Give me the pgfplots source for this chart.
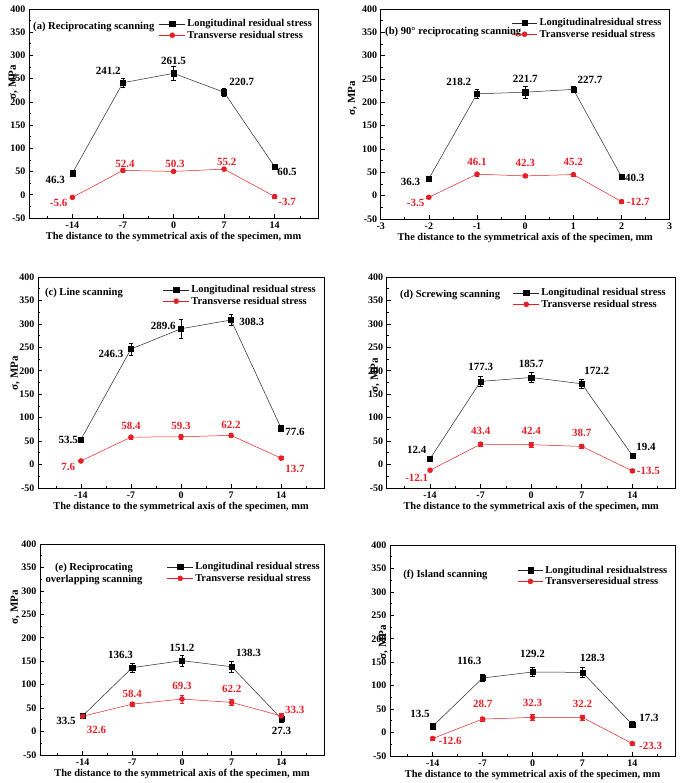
\documentclass[border=0pt]{standalone}
\usepackage{fontspec}
\setmainfont{Liberation Serif}
\usepackage{pgfplots}
\pgfplotsset{compat=1.18}
\definecolor{myred}{RGB}{228,32,38}
\newcommand{\labfont}{\fontsize{11}{12}\selectfont\bfseries}
\newcommand{\lb}[4]{\node[font=\labfont,text=black,inner sep=0pt] at (axis cs:#1,#2) [xshift=#3pt,yshift=#4pt] {#2};}
\newcommand{\lr}[4]{\node[font=\labfont,text=myred,inner sep=0pt] at (axis cs:#1,#2) [xshift=#3pt,yshift=#4pt] {#2};}
\tikzset{ttl/.style={font=\fontsize{10.6}{12.5}\selectfont\bfseries, inner sep=0pt}}
\pgfplotsset{
  base/.style={
    scale only axis, anchor=south west,
    ymin=-50, ymax=400, ytick={-50,0,...,400}, minor y tick num=1,
    tick align=inside, xtick pos=bottom, ytick pos=left,
    axis line style={line width=0.9pt},
    major tick length=4pt, minor tick length=2.2pt,
    every tick/.style={line width=0.7pt, black},
    ticklabel style={font=\fontsize{10}{11}\selectfont\bfseries},
    /pgf/number format/assume math mode=true,
    ylabel={σ, MPa},
    xlabel={The distance to the symmetrical axis of the specimen, mm},
    label style={font=\fontsize{10.4}{12}\selectfont\bfseries},
    ylabel style={anchor=center, font=\fontsize{11}{12}\selectfont\bfseries},
    xlabel style={yshift=3pt},
    legend style={draw=none, fill=none, anchor=north west, inner sep=0pt,
      font=\fontsize{10.5}{11.5}\selectfont\bfseries, row sep=-1.5pt},
    legend cell align=left,
    legend image code/.code={\draw[mark repeat=2,mark phase=2] plot coordinates {(0cm,0cm) (0.45cm,0cm) (0.9cm,0cm)};},
  },
  longi/.style={black!85, line width=0.5pt, mark=square*, mark size=2.6pt, mark options={fill=black, draw=black, solid},
    error bars/.cd, y dir=both, y explicit, error bar style={line width=0.6pt, black},
    error mark options={rotate=90, mark size=2.4pt, line width=0.6pt, black}},
  trans/.style={myred, line width=0.5pt, mark=*, mark size=2.5pt, mark options={fill=myred, solid},
    error bars/.cd, y dir=both, y explicit, error bar style={line width=0.6pt, myred},
    error mark options={rotate=90, mark size=2.4pt, line width=0.6pt, myred}},
  xmm/.style={xmin=-20, xmax=20, xtick={-14,-7,0,7,14}, minor xtick={-17.5,-10.5,-3.5,3.5,10.5,17.5}},
}
\begin{document}
\begin{tikzpicture}[x=1pt,y=1pt]
\path[use as bounding box] (0,0) rectangle (685,783);

% (a)
\begin{axis}[base, xmm, at={(29pt,565pt)}, width=289pt, height=209pt,
  legend style={at={(0.45,0.96)}},
  ylabel style={at={(axis description cs:-0.055,0.65)}}]
\addplot[longi] table[row sep=\\, x index=0, y index=1, y error index=2] {
-14 46.3 3\\ -7 241.2 10\\ 0 261.5 15\\ 7 220.7 9\\ 14 60.5 5\\};
\addlegendentry{Longitudinal residual stress}
\addplot[trans] table[row sep=\\, x index=0, y index=1, y error index=2] {
-14 -5.6 3\\ -7 52.4 4\\ 0 50.3 3\\ 7 55.2 3\\ 14 -3.7 3\\};
\addlegendentry{Transverse residual stress}
\node[ttl, anchor=west] at (axis description cs:0.014,0.914) {(a) Reciprocating scanning};
\lb{-14}{46.3}{-17}{-7}
\lb{-7}{241.2}{-14.6}{11.8}
\lb{0}{261.5}{0}{12.6}
\lb{7}{220.7}{17.7}{10}
\lb{14}{60.5}{12.4}{-5}
\lr{-14}{-5.6}{-13.7}{-5.3}
\lr{-7}{52.4}{2}{6.5}
\lr{0}{50.3}{1.5}{7}
\lr{7}{55.2}{2.7}{7}
\lr{14}{-3.7}{12.4}{-5.5}
\end{axis}

% (b)
\begin{axis}[base, at={(380.7pt,564pt)}, width=289pt, height=210pt,
  xmin=-3, xmax=3, xtick={-3,-2,...,3}, minor x tick num=1,
  legend style={at={(0.452,0.965)}},
  ylabel style={at={(axis description cs:-0.098,0.576)}}]
\addplot[longi] table[row sep=\\, x index=0, y index=1, y error index=2] {
-2 36.3 3\\ -1 218.2 10\\ 0 221.7 13\\ 1 227.7 7\\ 2 40.3 3\\};
\addlegendentry{Longitudinalresidual stress}
\addplot[trans] table[row sep=\\, x index=0, y index=1, y error index=2] {
-2 -3.5 3\\ -1 46.1 4\\ 0 42.3 4\\ 1 45.2 3\\ 2 -12.7 3\\};
\addlegendentry{Transverse residual stress}
\node[ttl, anchor=west] at (axis description cs:0.015,0.89) {(b) 90° reciprocating scanning};
\lb{-2}{36.3}{-18.3}{-3.7}
\lb{-1}{218.2}{-18.3}{11.7}
\lb{0}{221.7}{0}{13.7}
\lb{1}{227.7}{16.7}{9.3}
\lb{2}{40.3}{13.3}{-1}
\lr{-2}{-3.5}{-13.3}{-5.3}
\lr{-1}{46.1}{0}{12}
\lr{0}{42.3}{0}{13.3}
\lr{1}{45.2}{0}{12.7}
\lr{2}{-12.7}{16.7}{0}
\end{axis}

% (c)
\begin{axis}[base, xmm, at={(38pt,295pt)}, width=286pt, height=211pt,
  legend style={at={(0.437,0.97)}},
  ylabel style={at={(axis description cs:-0.08,0.545)}}]
\addplot[longi] table[row sep=\\, x index=0, y index=1, y error index=2] {
-14 53.5 3\\ -7 246.3 13\\ 0 289.6 21\\ 7 308.3 12\\ 14 77.6 7\\};
\addlegendentry{Longitudinal residual stress}
\addplot[trans] table[row sep=\\, x index=0, y index=1, y error index=2] {
-14 7.6 3\\ -7 58.4 4\\ 0 59.3 5\\ 7 62.2 5\\ 14 13.7 3\\};
\addlegendentry{Transverse residual stress}
\node[ttl, anchor=west] at (axis description cs:0.024,0.924) {(c) Line scanning};
\lb{-14}{53.5}{-12.7}{0}
\lb{-7}{246.3}{-20}{-5.3}
\lb{0}{289.6}{-17.7}{3.3}
\lb{7}{308.3}{20.7}{-1.7}
\lb{14}{77.6}{14}{-3.3}
\lr{-14}{7.6}{-12.7}{-6}
\lr{-7}{58.4}{0}{11}
\lr{0}{59.3}{0}{11}
\lr{7}{62.2}{0}{10.7}
\lr{14}{13.7}{14}{-10.7}
\end{axis}

% (d)
\begin{axis}[base, xmm, at={(386.7pt,295pt)}, width=289pt, height=211pt,
  legend style={at={(0.437,0.955)}},
  ylabel style={at={(axis description cs:-0.04,0.535)}}]
\addplot[longi] table[row sep=\\, x index=0, y index=1, y error index=2] {
-14 12.4 4\\ -7 177.3 10\\ 0 185.7 10\\ 7 172.2 9\\ 14 19.4 5\\};
\addlegendentry{Longitudinal residual stress}
\addplot[trans] table[row sep=\\, x index=0, y index=1, y error index=2] {
-14 -12.1 3\\ -7 43.4 4\\ 0 42.4 5\\ 7 38.7 5\\ 14 -13.5 3\\};
\addlegendentry{Transverse residual stress}
\node[ttl, anchor=west] at (axis description cs:0.046,0.915) {(d) Screwing scanning};
\lb{-14}{12.4}{-13.3}{9}
\lb{-7}{177.3}{0}{14.3}
\lb{0}{185.7}{0}{13.3}
\lb{7}{172.2}{15}{13.3}
\lb{14}{19.4}{13.7}{8.3}
\lr{-14}{-12.1}{-13.3}{-7.3}
\lr{-7}{43.4}{0}{13.7}
\lr{0}{42.4}{0}{13.7}
\lr{7}{38.7}{0}{13.3}
\lr{14}{-13.5}{16}{0}
\end{axis}

% (e)
\begin{axis}[base, xmm, at={(40pt,28pt)}, width=284pt, height=211pt,
  legend style={at={(0.447,0.922)}},
  ylabel style={at={(axis description cs:-0.088,0.70)}}]
\addplot[longi] table[row sep=\\, x index=0, y index=1, y error index=2] {
-14 33.5 4\\ -7 136.3 10\\ 0 151.2 12\\ 7 138.3 11\\ 14 27.3 8\\};
\addlegendentry{Longitudinal residual stress}
\addplot[trans] table[row sep=\\, x index=0, y index=1, y error index=2] {
-14 32.6 3\\ -7 58.4 4\\ 0 69.3 8\\ 7 62.2 7\\ 14 33.3 5\\};
\addlegendentry{Transverse residual stress}
\node[ttl, anchor=center, align=center] at (axis description cs:0.19,0.858) {(e) Reciprocating\\overlapping scanning};
\lb{-14}{33.5}{-16.7}{-5}
\lb{-7}{136.3}{-11.7}{12.7}
\lb{0}{151.2}{0}{13}
\lb{7}{138.3}{16.7}{14}
\lb{14}{27.3}{0}{-12.3}
\lr{-14}{32.6}{14}{-13.3}
\lr{-7}{58.4}{0}{10.7}
\lr{0}{69.3}{0}{13.3}
\lr{7}{62.2}{0}{13}
\lr{14}{33.3}{13.3}{5.7}
\end{axis}

% (f)
\begin{axis}[base, xmm, at={(390pt,27pt)}, width=285pt, height=211pt,
  legend style={at={(0.446,0.912)}},
  ylabel style={at={(axis description cs:-0.023,0.54)}}]
\addplot[longi] table[row sep=\\, x index=0, y index=1, y error index=2] {
-14 13.5 3\\ -7 116.3 7\\ 0 129.2 9\\ 7 128.3 10\\ 14 17.3 6\\};
\addlegendentry{Longitudinal residualstress}
\addplot[trans] table[row sep=\\, x index=0, y index=1, y error index=2] {
-14 -12.6 3\\ -7 28.7 4\\ 0 32.3 7\\ 7 32.2 5\\ 14 -23.3 3\\};
\addlegendentry{Transverseresidual stress}
\node[ttl, anchor=west] at (axis description cs:0.046,0.858) {(f) Island scanning};
\lb{-14}{13.5}{-12.7}{12.7}
\lb{-7}{116.3}{-13.3}{16.7}
\lb{0}{129.2}{0}{17.7}
\lb{7}{128.3}{10}{14.3}
\lb{14}{17.3}{16.7}{6.7}
\lr{-14}{-12.6}{17.3}{-2}
\lr{-7}{28.7}{0}{15}
\lr{0}{32.3}{0}{14.3}
\lr{7}{32.2}{0}{13.3}
\lr{14}{-23.3}{18.3}{-2}
\end{axis}
\end{tikzpicture}
\end{document}
